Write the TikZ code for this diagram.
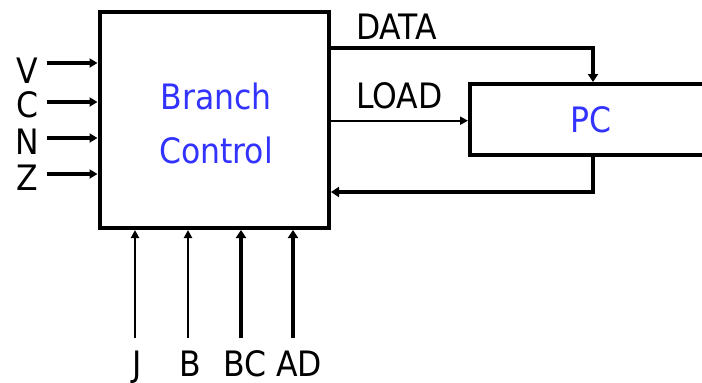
\documentclass[tikz,border=0pt]{standalone}
\usepackage{fontspec}
\setmainfont{DejaVu Sans Condensed}
\usetikzlibrary{arrows.meta}
\definecolor{lblue}{RGB}{51,51,255}
\begin{document}
\begin{tikzpicture}[x=1pt,y=-1pt,
  blk/.style={draw, line width=4pt, inner sep=0pt},
  txt/.style={inner sep=0pt, font=\fontsize{35}{40}\selectfont},
  btxt/.style={txt, text=lblue},
  thickw/.style={line width=4pt, -{Triangle[length=8pt,width=10pt]}},
  medw/.style={line width=3.3pt, -{Triangle[length=8pt,width=9pt]}},
  thinw/.style={line width=2.5pt, -{Triangle[length=8pt,width=8pt]}},
  loadw/.style={line width=2pt, -{Triangle[length=8pt,width=8pt]}}
]
\useasboundingbox (0,0) rectangle (702,383);
\fill[white] (0,0) rectangle (702,383);

% blocks
\node[blk, minimum width=229.5pt, minimum height=216pt] (bc) at (214.25,120) {};
\node[blk, minimum width=240pt, minimum height=71pt] (pc) at (590,119.5) {};

% block texts
\node[btxt, anchor=base] (branch) at (216,109.5) {Branch};
\node[btxt, anchor=base] (control) at (216,163.5) {Control};
\node[btxt, anchor=base] (pctext) at (591,132) {PC};

% DATA
\coordinate (datac) at (593,48);
\draw[thickw] (bc.east |- datac) -- (datac) -- (pc.north -| datac);
\node[txt, anchor=base west] (datal) at (356,39) {DATA};

% LOAD
\coordinate (loadc) at (400,120.7);
\draw[loadw] (bc.east |- loadc) -- (pc.west |- loadc);
\node[txt, anchor=base west] (loadl) at (356,108) {LOAD};

% feedback
\coordinate (fbc) at (593,192);
\draw[thickw] (pc.south -| fbc) -- (fbc) -- (bc.east |- fbc);

% left inputs
\foreach \n/\y/\by in {V/63/83, C/102/117.5, N/138/154, Z/174/190}{
  \coordinate (in\n) at (47,\y);
  \draw[medw] (in\n) -- (bc.west |- in\n);
  \node[txt, anchor=base] (l\n) at (27,\by) {\n};
}

% bottom inputs
\foreach \n/\x/\lx/\w in {J/135/137.5/thinw, B/188/190.5/thinw, BC/241/245/thickw, AD/293/299/thickw}{
  \coordinate (b\n) at (\x,338);
  \draw[\w] (b\n) -- (bc.south -| b\n);
  \node[txt, anchor=base] (lb\n) at (\lx,376) {\n};
}
\end{tikzpicture}
\end{document}
